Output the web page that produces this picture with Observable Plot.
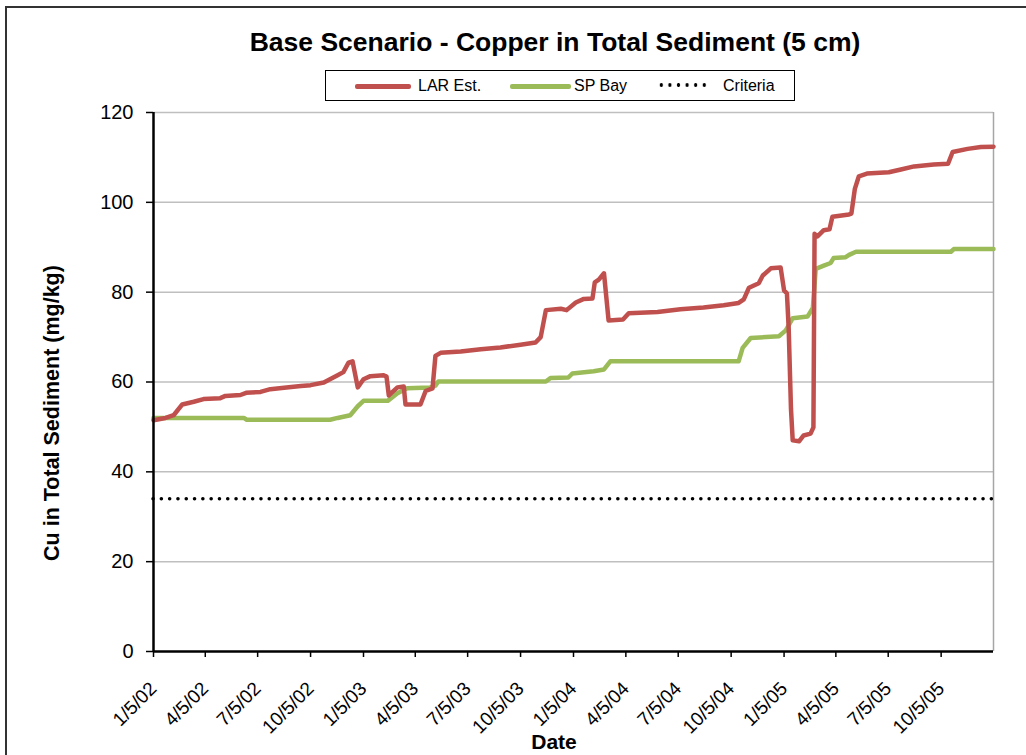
<!DOCTYPE html>
<html>
<head>
<meta charset="utf-8">
<script src="https://cdn.jsdelivr.net/npm/d3@7"></script>
<script src="https://cdn.jsdelivr.net/npm/@observablehq/plot@0.6"></script>
<style>
  html, body { margin: 0; padding: 0; background: #fff; }
  #wrap { position: relative; width: 1026px; height: 755px; overflow: hidden; font-family: "Liberation Sans", Arial, sans-serif; }
  #frame { position: absolute; left: 5px; top: 6px; width: 1100px; height: 800px; border-left: 2px solid #333; border-top: 2px solid #333; }
  #chart { position: absolute; left: 0; top: 0; }
  #title { position: absolute; left: 0; width: 1110px; top: 26px; text-align: center; font-weight: bold; font-size: 26.5px; line-height: 32px; }
  #legend { position: absolute; left: 325px; top: 70px; width: 468px; height: 29px; border: 1.5px solid #000; background: #fff; font-size: 16px; }
  .li { position: absolute; top: 0; height: 29px; line-height: 29px; white-space: nowrap; }
  .sw { position: absolute; top: 13px; height: 5px; border-radius: 2px; }
  #ytitle { position: absolute; left: 52px; top: 413px; transform: translate(-50%, -50%) rotate(-90deg); font-weight: bold; font-size: 21.5px; white-space: nowrap; }
  #xtitle { position: absolute; left: 554px; top: 742px; transform: translate(-50%, -50%); font-weight: bold; font-size: 21px; }
</style>
</head>
<body>
<div id="wrap">
  <div id="frame"></div>
  <div id="chart"></div>
  <div id="title"></div>
  <div id="legend"></div>
  <div id="ytitle"></div>
  <div id="xtitle"></div>
</div>
<script>
const chartTitle = "Base Scenario - Copper in Total Sediment (5 cm)";
const yTitle = "Cu in Total Sediment (mg/kg)";
const xTitle = "Date";
const seriesNames = ["LAR Est.", "SP Bay", "Criteria"];
const seriesColors = ["#c0504d", "#9bbb59", "#000000"];

const larDates = ["2002-01-05","2002-01-26","2002-02-09","2002-02-24","2002-03-16","2002-04-02","2002-05-01","2002-05-10","2002-06-05","2002-06-15","2002-07-10","2002-07-27","2002-08-20","2002-09-18","2002-10-05","2002-10-28","2002-11-21","2002-12-01","2002-12-10","2002-12-17","2002-12-26","2003-01-05","2003-01-17","2003-02-09","2003-02-14","2003-02-18","2003-03-05","2003-03-16","2003-03-19","2003-04-14","2003-04-23","2003-05-05","2003-05-10","2003-05-19","2003-06-23","2003-07-28","2003-08-31","2003-10-05","2003-10-31","2003-11-09","2003-11-18","2003-12-14","2003-12-24","2004-01-09","2004-01-23","2004-02-07","2004-02-11","2004-02-18","2004-02-27","2004-03-06","2004-03-31","2004-04-10","2004-05-30","2004-07-09","2004-08-18","2004-09-22","2004-10-18","2004-10-27","2004-11-05","2004-11-22","2004-11-29","2004-12-13","2004-12-30","2005-01-05","2005-01-10","2005-01-13","2005-01-17","2005-01-20","2005-01-31","2005-02-08","2005-02-20","2005-02-25","2005-02-27","2005-03-04","2005-03-15","2005-03-25","2005-03-30","2005-04-28","2005-05-02","2005-05-08","2005-05-15","2005-05-29","2005-07-06","2005-07-27","2005-08-19","2005-09-22","2005-10-17","2005-10-25","2005-11-20","2005-12-13","2006-01-04"];
const larValues = [51.5,52.0,52.6,55.0,55.6,56.2,56.4,56.9,57.1,57.6,57.8,58.4,58.7,59.1,59.3,59.9,61.5,62.2,64.3,64.6,58.8,60.6,61.3,61.5,61.2,57.0,58.8,59.0,55.0,55.0,58.0,58.6,65.8,66.5,66.8,67.3,67.7,68.3,68.8,70.0,76.0,76.3,76.0,77.7,78.5,78.6,82.2,82.8,84.2,73.7,73.9,75.3,75.6,76.2,76.6,77.1,77.6,78.4,81.0,82.0,83.7,85.3,85.5,80.4,79.7,72.0,54.0,47.0,46.8,48.1,48.5,49.9,93.0,92.4,93.8,94.0,96.8,97.3,97.5,103.0,105.8,106.4,106.7,107.3,108.0,108.4,108.6,111.2,111.9,112.3,112.4];

const spDates = ["2002-01-05","2002-06-11","2002-06-16","2002-11-08","2002-11-21","2002-12-13","2002-12-26","2003-01-05","2003-02-16","2003-03-05","2003-03-22","2003-05-01","2003-05-10","2003-05-15","2003-11-18","2003-11-26","2003-12-27","2004-01-03","2004-02-09","2004-02-27","2004-03-09","2004-10-18","2004-10-25","2004-11-08","2004-12-27","2005-01-08","2005-01-20","2005-02-15","2005-02-24","2005-03-01","2005-03-15","2005-03-27","2005-04-01","2005-04-22","2005-04-28","2005-05-10","2005-10-22","2005-10-27","2006-01-04"];
const spValues = [52.0,52.0,51.6,51.6,52.0,52.6,54.6,55.8,55.8,57.5,58.6,58.8,59.2,60.1,60.1,60.9,61.0,61.9,62.4,62.8,64.6,64.6,67.6,69.8,70.2,71.5,74.2,74.6,76.5,85.2,85.9,86.5,87.6,87.8,88.3,89.0,89.0,89.6,89.6];

const criteriaValue = 34;
const yTicks = [0, 20, 40, 60, 80, 100, 120];
const xTickDates = ["2002-01-05","2002-04-05","2002-07-05","2002-10-05","2003-01-05","2003-04-05","2003-07-05","2003-10-05","2004-01-05","2004-04-05","2004-07-05","2004-10-05","2005-01-05","2005-04-05","2005-07-05","2005-10-05"];
const xTickLabels = ["1/5/02","4/5/02","7/5/02","10/5/02","1/5/03","4/5/03","7/5/03","10/5/03","1/5/04","4/5/04","7/5/04","10/5/04","1/5/05","4/5/05","7/5/05","10/5/05"];
const xDomain = ["2002-01-05", "2006-01-04"];

const parse = d3.utcParse("%Y-%m-%d");
const lar = larDates.map((d, i) => ({date: parse(d), value: larValues[i]}));
const sp = spDates.map((d, i) => ({date: parse(d), value: spValues[i]}));
const xTicks = xTickDates.map(parse);
const labelOf = new Map(xTicks.map((d, i) => [+d, xTickLabels[i]]));

const plot = Plot.plot({
  width: 1026,
  height: 755,
  marginLeft: 153,
  marginRight: 33,
  marginTop: 112,
  marginBottom: 104,
  style: {fontFamily: "'Liberation Sans', Arial, sans-serif", background: "transparent", overflow: "visible"},
  x: {type: "utc", domain: xDomain.map(parse)},
  y: {domain: [0, 120]},
  marks: [
    Plot.gridY(yTicks.filter(d => d > 0), {stroke: "#bfbfbf", strokeOpacity: 1, strokeWidth: 1.5}),
    Plot.ruleX([parse(xDomain[1])], {stroke: "#a6a6a6", strokeWidth: 1.5}),
    Plot.ruleY([criteriaValue], {stroke: seriesColors[2], strokeWidth: 3.5, strokeDasharray: "0.1 8.2", strokeLinecap: "round"}),
    Plot.line(sp, {x: "date", y: "value", stroke: seriesColors[1], strokeWidth: 4.5, strokeLinejoin: "round"}),
    Plot.line(lar, {x: "date", y: "value", stroke: seriesColors[0], strokeWidth: 4.5, strokeLinejoin: "round"}),
    Plot.axisY(yTicks, {tickSize: 7, tickPadding: 13, fontSize: 20, label: null, stroke: "#000", strokeWidth: 1.5}),
    Plot.axisX(xTicks, {tickSize: 6, tickPadding: 28, tickRotate: -45, fontSize: 19, label: null, tickFormat: d => labelOf.get(+d), stroke: "#000", strokeWidth: 1.5}),
    Plot.ruleX([parse(xDomain[0])], {stroke: "#000", strokeWidth: 2.5}),
    Plot.ruleY([0], {stroke: "#000", strokeWidth: 2.5})
  ]
});
document.getElementById("chart").appendChild(plot);

document.getElementById("title").textContent = chartTitle;
document.getElementById("ytitle").textContent = yTitle;
document.getElementById("xtitle").textContent = xTitle;

const legend = document.getElementById("legend");
const items = [
  {sw: [29, 56], tx: 92},
  {sw: [184, 61], tx: 248},
  {sw: [331, 52], tx: 397}
];
items.forEach((it, i) => {
  const s = document.createElement("div");
  s.className = "sw";
  s.style.left = it.sw[0] + "px";
  s.style.width = it.sw[1] + "px";
  if (i < 2) {
    s.style.background = seriesColors[i];
  } else {
    s.style.top = "12px";
    s.style.height = "4px";
    s.style.background = "radial-gradient(circle, #000 1.6px, transparent 2px) 0 0 / 8.6px 4px repeat-x";
  }
  legend.appendChild(s);
  const t = document.createElement("div");
  t.className = "li";
  t.style.left = it.tx + "px";
  t.textContent = seriesNames[i];
  legend.appendChild(t);
});
</script>
</body>
</html>
